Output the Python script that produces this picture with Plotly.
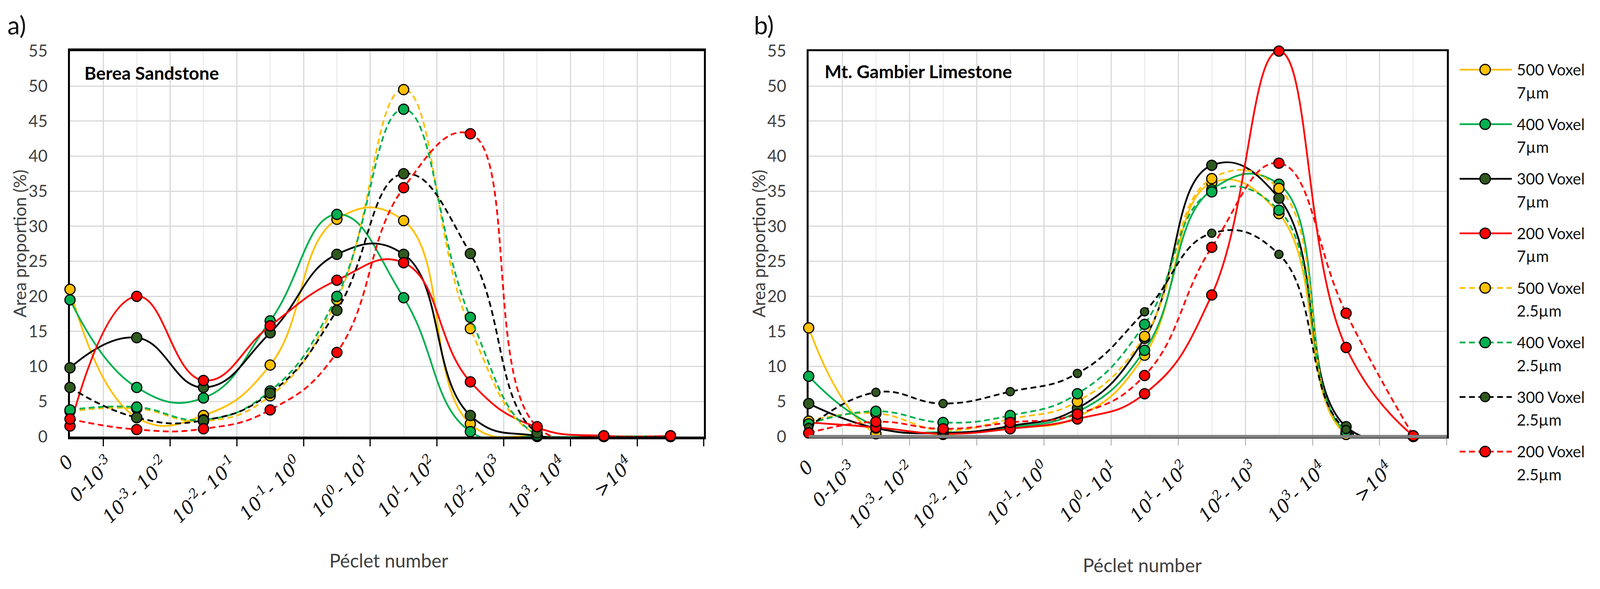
import plotly.graph_objects as go

# ---------------- data ----------------
categories = ["0", "0-10<sup>-3</sup>", "10<sup>-3</sup>- 10<sup>-2</sup>", "10<sup>-2</sup>- 10<sup>-1</sup>",
              "10<sup>-1</sup>- 10<sup>0</sup>", "10<sup>0</sup>- 10<sup>1</sup>", "10<sup>1</sup>- 10<sup>2</sup>",
              "10<sup>2</sup>- 10<sup>3</sup>", "10<sup>3</sup>- 10<sup>4</sup>", "&gt;10<sup>4</sup>"]
x_index = list(range(len(categories)))
y_ticks = [0, 5, 10, 15, 20, 25, 30, 35, 40, 45, 50, 55]

series_names = ["500 Voxel 7\u00b5m", "400 Voxel 7\u00b5m", "300 Voxel 7\u00b5m", "200 Voxel 7\u00b5m",
                "500 Voxel 2.5\u00b5m", "400 Voxel 2.5\u00b5m", "300 Voxel 2.5\u00b5m", "200 Voxel 2.5\u00b5m"]

# a) Berea Sandstone
berea_500_7 = [21.0, 2.7, 3.0, 10.2, 31.0, 30.8, 1.8, 0.0, 0.0, 0.0]
berea_400_7 = [19.5, 7.0, 5.5, 16.5, 31.7, 19.8, 0.7, 0.0, 0.0, 0.0]
berea_300_7 = [9.8, 14.1, 7.0, 14.8, 26.0, 26.0, 3.0, 0.1, 0.0, 0.0]
berea_200_7 = [1.5, 20.0, 8.0, 15.8, 22.3, 24.8, 7.8, 1.3, 0.1, 0.1]
berea_500_25 = [3.6, 4.0, 2.2, 5.8, 19.5, 49.5, 15.4, 0.2, 0.0, 0.0]
berea_400_25 = [3.8, 4.2, 2.4, 6.5, 20.0, 46.7, 17.0, 0.2, 0.0, 0.0]
berea_300_25 = [7.0, 2.7, 2.3, 6.2, 18.0, 37.5, 26.1, 0.5, 0.0, 0.0]
berea_200_25 = [2.5, 1.0, 1.1, 3.8, 12.0, 35.5, 43.2, 1.4, 0.1, 0.1]

# b) Mt. Gambier Limestone
gambier_500_7 = [15.5, 0.4, 0.3, 1.2, 2.8, 11.6, 36.2, 31.8, 0.3, 0.0]
gambier_400_7 = [8.6, 1.5, 0.6, 1.3, 3.5, 12.3, 35.2, 36.0, 0.5, 0.0]
gambier_300_7 = [4.7, 1.2, 0.5, 1.5, 4.0, 14.0, 38.7, 34.0, 1.4, 0.0]
gambier_200_7 = [2.0, 1.3, 0.4, 1.1, 2.5, 6.1, 20.2, 55.0, 12.7, 0.1]
gambier_500_25 = [2.2, 3.3, 0.9, 2.5, 5.0, 14.3, 36.8, 35.4, 0.3, 0.0]
gambier_400_25 = [1.8, 3.6, 2.0, 3.0, 6.1, 16.0, 34.9, 32.3, 0.7, 0.0]
gambier_300_25 = [1.3, 6.3, 4.7, 6.4, 9.0, 17.8, 29.0, 26.0, 1.0, 0.0]
gambier_200_25 = [0.5, 2.1, 1.1, 2.0, 3.2, 8.7, 27.0, 39.0, 17.6, 0.1]

berea = [berea_500_7, berea_400_7, berea_300_7, berea_200_7,
         berea_500_25, berea_400_25, berea_300_25, berea_200_25]
gambier = [gambier_500_7, gambier_400_7, gambier_300_7, gambier_200_7,
           gambier_500_25, gambier_400_25, gambier_300_25, gambier_200_25]

# ---------------- styles ----------------
YEL, GRN, BLK, RED, DKG = "#FFC000", "#00B050", "#000000", "#FF0000", "#2F5A1E"
line_colors = [YEL, GRN, BLK, RED, YEL, GRN, BLK, RED]
marker_colors = [YEL, GRN, DKG, RED, YEL, GRN, DKG, RED]
dashes = ["solid"] * 4 + ["15px,9px"] * 4

# page body margin and the capture scale observed in earlier renders
OFF = 8
S = 1.01
W = round(4139 / S) - OFF
H = round(1507 / S) - OFF
PA = (181, 1820)
PB = (2091, 3741)
TOP, BOT = 132, 1128


def fx(p):
    return (p / S - OFF) / W


def fy(p):
    return 1 - (p / S - OFF) / H


fig = go.Figure()

panels = [("x", "y", berea, 26), ("x2", "y2", gambier, 21)]
for xa, ya, data, small in panels:
    for k in range(8):
        msize = small if k == 6 else 26
        fig.add_trace(go.Scatter(
            x=x_index, y=data[k], mode="lines+markers", name=series_names[k],
            xaxis=xa, yaxis=ya, showlegend=False, cliponaxis=False,
            line=dict(color=line_colors[k], width=4.5, dash=dashes[k], shape="spline", smoothing=1.3),
            marker=dict(size=msize, color=marker_colors[k], line=dict(color="black", width=3)),
        ))

xcommon = dict(range=[0, 9.5], tickmode="array", tickvals=[i + 0.5 for i in range(10)],
               ticks="outside", ticklen=18, tickwidth=3, showticklabels=False, automargin=False,
               showgrid=True, gridcolor="#d9d9d9", gridwidth=3, zeroline=False,
               showline=True, mirror=True, layer="below traces",
               minor=dict(tickmode="linear", tick0=0, dtick=1, showgrid=True, gridcolor="#eeeeee",
                          gridwidth=3, ticks=""))
ycommon = dict(range=[0, 55], tickmode="array", tickvals=y_ticks, ticks="outside", ticklen=44,
               tickcolor="rgba(0,0,0,0)", tickfont=dict(family="Lato", size=42, color="#404040"),
               showgrid=True, gridcolor="#d9d9d9", gridwidth=3, zeroline=False, automargin=False,
               showline=True, linewidth=5, linecolor="black", mirror=True, layer="below traces")

fig.update_layout(
    width=W, height=H, margin=dict(l=0, r=0, t=0, b=0, autoexpand=False),
    paper_bgcolor="white", plot_bgcolor="white", showlegend=False,
    font=dict(family="Lato", color="#404040"),
    xaxis=dict(domain=[fx(PA[0]), fx(PA[1])], anchor="y", tickcolor="black", linecolor="black",
               linewidth=7, **xcommon),
    yaxis=dict(domain=[fy(BOT), fy(TOP)], anchor="x", **ycommon),
    xaxis2=dict(domain=[fx(PB[0]), fx(PB[1])], anchor="y2", tickcolor="#bfbfbf", linecolor="black",
                linewidth=5, **xcommon),
    yaxis2=dict(domain=[fy(BOT), fy(TOP)], anchor="x2", **ycommon),
)

shapes = []
annotations = []

# grey bottom axis line of panel b
shapes.append(dict(type="line", xref="x2 domain", yref="y2 domain", x0=0, x1=1, y0=0, y1=0,
                   layer="above", line=dict(color="#808080", width=8)))

# rotated category labels (manually placed like the original text boxes)
offs_a = [0.13, -0.26, -0.44, -0.40, -0.44, -0.40, -0.42, -0.44, -0.47, -0.47]
offs_b = [0.15, -0.20, -0.34, -0.39, -0.34, -0.30, -0.25, -0.23, -0.20, -0.21]
for xr, offs, top in [("x", offs_a, 1162), ("x2", offs_b, 1175)]:
    for i, lab in enumerate(categories):
        annotations.append(dict(text="<i>" + lab + "</i>", xref=xr, yref="paper",
                                x=x_index[i] + offs[i], y=fy(top), xanchor="right", yanchor="top",
                                textangle=-45, showarrow=False,
                                font=dict(family="DejaVu Serif", size=47, color="#111111")))

# panel letters, titles
for txt, x, y in [("a)", 43, 64), ("b)", 1975, 64)]:
    annotations.append(dict(text=txt, xref="paper", yref="paper", x=fx(x), y=fy(y),
                            xanchor="center", yanchor="middle", showarrow=False,
                            font=dict(family="Lato", size=64, color="#111111")))
annotations.append(dict(text="<b>Berea Sandstone</b>", xref="paper", yref="paper", x=fx(216), y=fy(188),
                        xanchor="left", yanchor="middle", showarrow=False,
                        font=dict(family="Lato", size=46, color="#000000")))
annotations.append(dict(text="<b>Mt. Gambier Limestone</b>", xref="paper", yref="paper", x=fx(2130), y=fy(184),
                        xanchor="left", yanchor="middle", showarrow=False,
                        font=dict(family="Lato", size=46, color="#000000")))
for x in (50, 1961):
    annotations.append(dict(text="Area proportion (%)", xref="paper", yref="paper", x=fx(x),
                            y=fy((TOP + BOT) / 2), xanchor="center", yanchor="middle", textangle=-90,
                            showarrow=False, font=dict(family="Lato", size=44, color="#404040")))
for x, y in ((1005, 1448), (2954, 1460)):
    annotations.append(dict(text="P\u00e9clet number", xref="paper", yref="paper", x=fx(x), y=fy(y),
                            xanchor="center", yanchor="middle", showarrow=False,
                            font=dict(family="Lato", size=48, color="#404040")))

# custom legend (big markers like the original)
for k in range(8):
    yc = 180 + 141 * k
    shapes.append(dict(type="line", xref="paper", yref="paper", x0=fx(3774), x1=fx(3909),
                       y0=fy(yc), y1=fy(yc), layer="above",
                       line=dict(color=line_colors[k], width=4.5, dash=dashes[k])))
    r = 13.5 if k != 6 else 12
    shapes.append(dict(type="circle", xref="paper", yref="paper",
                       x0=fx(3840 - r), x1=fx(3840 + r), y0=fy(yc + r), y1=fy(yc - r), layer="above",
                       fillcolor=marker_colors[k], line=dict(color="black", width=3)))
    first, second = series_names[k].rsplit(" ", 1)
    annotations.append(dict(text=first, xref="paper", yref="paper", x=fx(3920), y=fy(yc),
                            xanchor="left", yanchor="middle", showarrow=False,
                            font=dict(family="Lato", size=40, color="#111111")))
    annotations.append(dict(text=second, xref="paper", yref="paper", x=fx(3920), y=fy(yc + 59),
                            xanchor="left", yanchor="middle", showarrow=False,
                            font=dict(family="Lato", size=40, color="#111111")))

fig.update_layout(shapes=shapes, annotations=annotations)
fig.write_html("out.html")
